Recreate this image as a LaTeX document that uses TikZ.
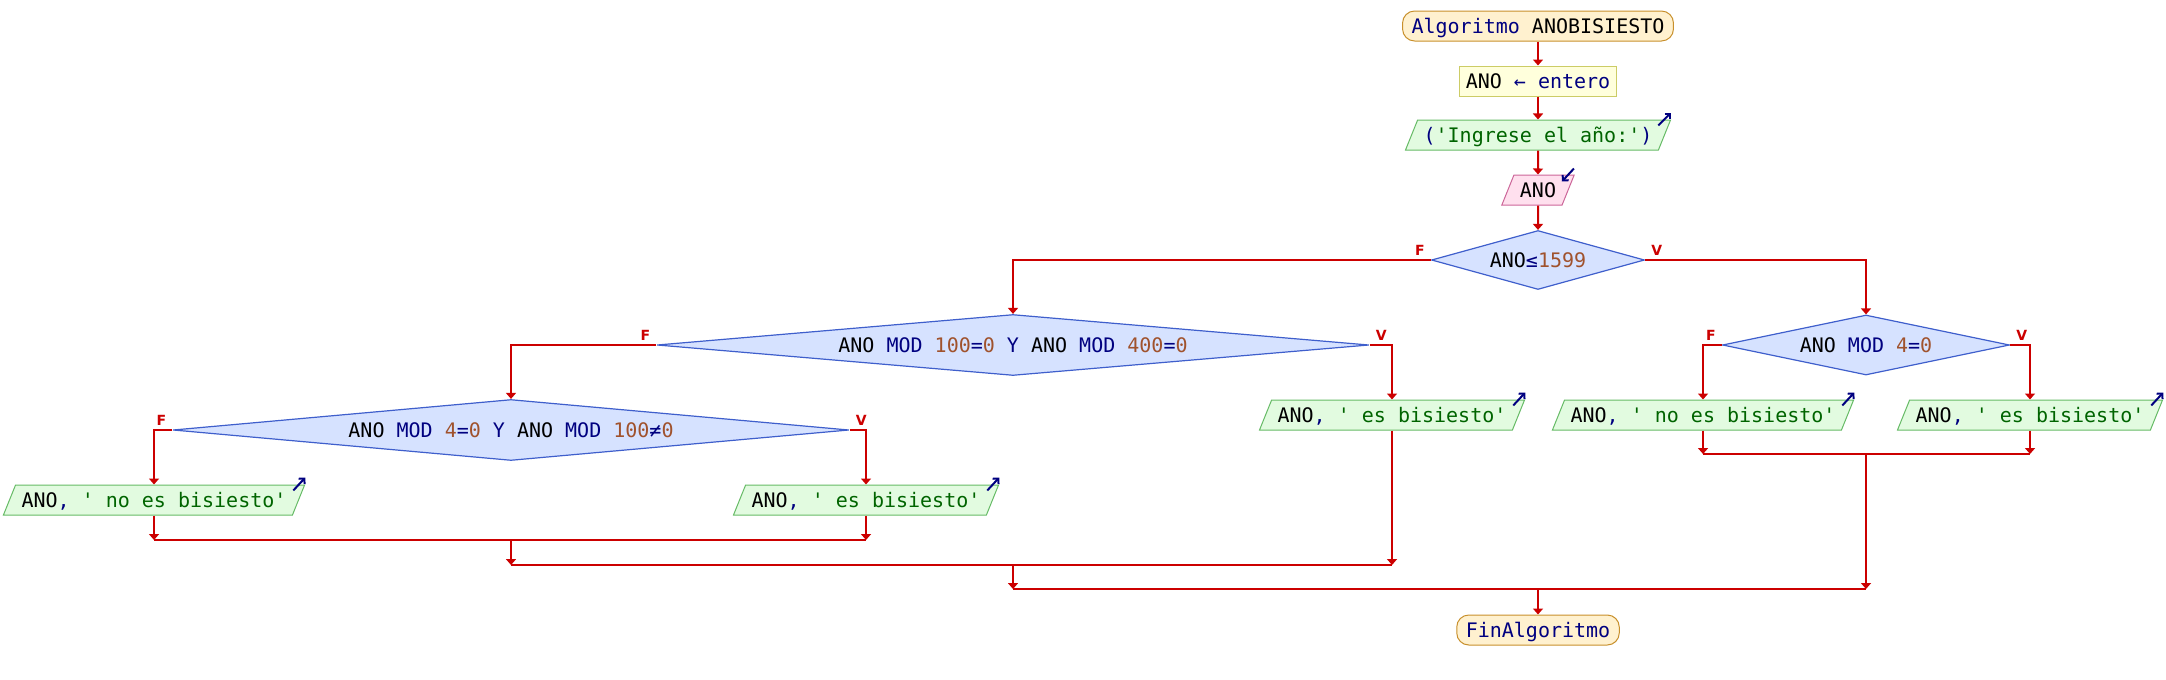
\documentclass[tikz,border=0pt]{standalone}
\usepackage{fontspec}
\setmonofont{DejaVu Sans Mono}
\setsansfont{DejaVu Sans}
\usepackage{xcolor}
\usetikzlibrary{shapes.geometric,arrows.meta}

\definecolor{flujo}{HTML}{CC0000}
\definecolor{azulkw}{HTML}{000080}
\definecolor{numcafe}{HTML}{A0522D}
\definecolor{cadverde}{HTML}{006400}
\definecolor{termfondo}{HTML}{FFF1CF}
\definecolor{termborde}{HTML}{C8902C}
\definecolor{declfondo}{HTML}{FFFFDC}
\definecolor{declborde}{HTML}{CCCC66}
\definecolor{escfondo}{HTML}{E2FBE0}
\definecolor{escborde}{HTML}{66BB66}
\definecolor{leerfondo}{HTML}{FFE0EE}
\definecolor{leerborde}{HTML}{CC6699}
\definecolor{decfondo}{HTML}{D6E2FF}
\definecolor{decborde}{HTML}{3F5FCC}

\newcommand{\pkw}[1]{\textcolor{azulkw}{#1}}
\newcommand{\pnum}[1]{\textcolor{numcafe}{#1}}
\newcommand{\pstr}[1]{\textcolor{cadverde}{#1}}

\tikzset{
  every node/.style={font=\ttfamily\fontsize{20}{24}\selectfont, text height=17pt, text depth=3pt},
  terminal/.style={draw=termborde, fill=termfondo, line width=1pt, rounded corners=12pt, inner xsep=9pt, inner ysep=5pt},
  declbox/.style={draw=declborde, fill=declfondo, line width=1pt, inner xsep=6.5pt, inner ysep=5pt},
  escribir/.style={trapezium, trapezium left angle=68, trapezium right angle=112, draw=escborde, fill=escfondo, line width=1pt, inner xsep=6pt, inner ysep=5pt},
  leer/.style={escribir, draw=leerborde, fill=leerfondo},
  decision/.style={diamond, draw=decborde, fill=decfondo, line width=1.2pt, inner sep=0pt},
  flow/.style={draw=flujo, line width=2pt, -{Triangle[width=10pt,length=6pt]}},
  joinline/.style={draw=flujo, line width=2.4pt},
  rama/.style={font=\sffamily\bfseries\fontsize{14}{16}\selectfont, text=flujo, inner sep=0pt, text height=, text depth=},
  ioarrow/.style={draw=azulkw, line width=2pt, -{Straight Barb[length=4pt,width=8pt]}}
}

\begin{document}
\begin{tikzpicture}[x=1pt,y=-1pt]
  \useasboundingbox (0,0) rectangle (2166,680);
  % columna principal
  \node[terminal] (inicio) at (1538,26) {\pkw{Algoritmo} ANOBISIESTO};
  \node[declbox] (decl) at (1538,81) {ANO \pkw{← entero}};
  \node[escribir] (pedir) at (1538,135) {\pkw{(}\pstr{'Ingrese el año:'}\pkw{)}};
  \node[leer] (ano) at (1538,190) {ANO};
  \node[decision, aspect=3.6, minimum width=213pt, minimum height=59pt] (d1) at (1538,260) {ANO\pkw{≤}\pnum{1599}};
  % rama falsa
  \node[decision, aspect=11.7, minimum width=712pt, minimum height=61pt] (d2) at (1013,345) {ANO \pkw{MOD} \pnum{100}\pkw{=}\pnum{0} \pkw{Y} ANO \pkw{MOD} \pnum{400}\pkw{=}\pnum{0}};
  \node[decision, aspect=10.9, minimum width=676pt, minimum height=61pt] (d4) at (511,430) {ANO \pkw{MOD} \pnum{4}\pkw{=}\pnum{0} \pkw{Y} ANO \pkw{MOD} \pnum{100}\pkw{≠}\pnum{0}};
  \node[escribir] (noBisA) at (154,500) {ANO\pkw{,} \pstr{' no es bisiesto'}};
  \node[escribir] (siBisA) at (866,500) {ANO\pkw{,} \pstr{' es bisiesto'}};
  \node[escribir] (siBisB) at (1392,415) {ANO\pkw{,} \pstr{' es bisiesto'}};
  % rama verdadera
  \node[decision, aspect=4.8, minimum width=287pt, minimum height=60pt] (d3) at (1866,345) {ANO \pkw{MOD} \pnum{4}\pkw{=}\pnum{0}};
  \node[escribir] (noBisC) at (1703,415) {ANO\pkw{,} \pstr{' no es bisiesto'}};
  \node[escribir] (siBisC) at (2030,415) {ANO\pkw{,} \pstr{' es bisiesto'}};
  \node[terminal] (fin) at (1538,630) {\pkw{FinAlgoritmo}};

  % puntos de union
  \coordinate (j3) at (1866,454);
  \coordinate (j4) at (511,540);
  \coordinate (j2) at (1013,565);
  \coordinate (j1) at (1538,589);

  % etiquetas F / V
  \node[rama, anchor=south east] (f1) at ([shift={(-6,-4)}]d1.west) {F};
  \node[rama, anchor=south west] (v1) at ([shift={(6,-4)}]d1.east) {V};
  \node[rama, anchor=south east] (f2) at ([shift={(-6,-4)}]d2.west) {F};
  \node[rama, anchor=south west] (v2) at ([shift={(6,-4)}]d2.east) {V};
  \node[rama, anchor=south east] (f3) at ([shift={(-6,-4)}]d3.west) {F};
  \node[rama, anchor=south west] (v3) at ([shift={(6,-4)}]d3.east) {V};
  \node[rama, anchor=south east] (f4) at ([shift={(-6,-4)}]d4.west) {F};
  \node[rama, anchor=south west] (v4) at ([shift={(6,-4)}]d4.east) {V};

  % flechas de entrada / salida
  \draw[ioarrow] ([shift={(-13,6)}]pedir.top right corner) -- ([shift={(0,-7)}]pedir.top right corner);
  \draw[ioarrow] ([shift={(-1,-6)}]ano.top right corner) -- ([shift={(-13,7)}]ano.top right corner);
  \foreach \s in {noBisA,siBisA,siBisB,noBisC,siBisC}
    \draw[ioarrow] ([shift={(-12,6)}]\s.top right corner) -- ([shift={(0,-7)}]\s.top right corner);

  % flujo
  \draw[flow] (inicio) -- (decl);
  \draw[flow] (decl) -- (pedir);
  \draw[flow] (pedir) -- (ano);
  \draw[flow] (ano) -- (d1);
  \draw[flow] (d1.west) -| (d2.north);
  \draw[flow] (d1.east) -| (d3.north);
  \draw[flow] (d2.west) -| (d4.north);
  \draw[flow] (d2.east) -| (siBisB.north);
  \draw[flow] (d4.west) -| (noBisA.north);
  \draw[flow] (d4.east) -| (siBisA.north);
  \draw[flow] (d3.west) -| (noBisC.north);
  \draw[flow] (d3.east) -| (siBisC.north);

  % uniones
  \draw[flow] (noBisA.south) -- (noBisA.south |- j4);
  \draw[flow] (siBisA.south) -- (siBisA.south |- j4);
  \draw[joinline] (noBisA.south |- j4) -- (siBisA.south |- j4);
  \draw[flow] (j4) -- (j4 |- j2);
  \draw[flow] (siBisB.south) -- (siBisB.south |- j2);
  \draw[joinline] (j4 |- j2) -- (siBisB.south |- j2);
  \draw[flow] (noBisC.south) -- (noBisC.south |- j3);
  \draw[flow] (siBisC.south) -- (siBisC.south |- j3);
  \draw[joinline] (noBisC.south |- j3) -- (siBisC.south |- j3);
  \draw[flow] (j2) -- (j2 |- j1);
  \draw[flow] (j3) -- (j3 |- j1);
  \draw[joinline] (j2 |- j1) -- (j3 |- j1);
  \draw[flow] (j1) -- (fin);
\end{tikzpicture}
\end{document}
